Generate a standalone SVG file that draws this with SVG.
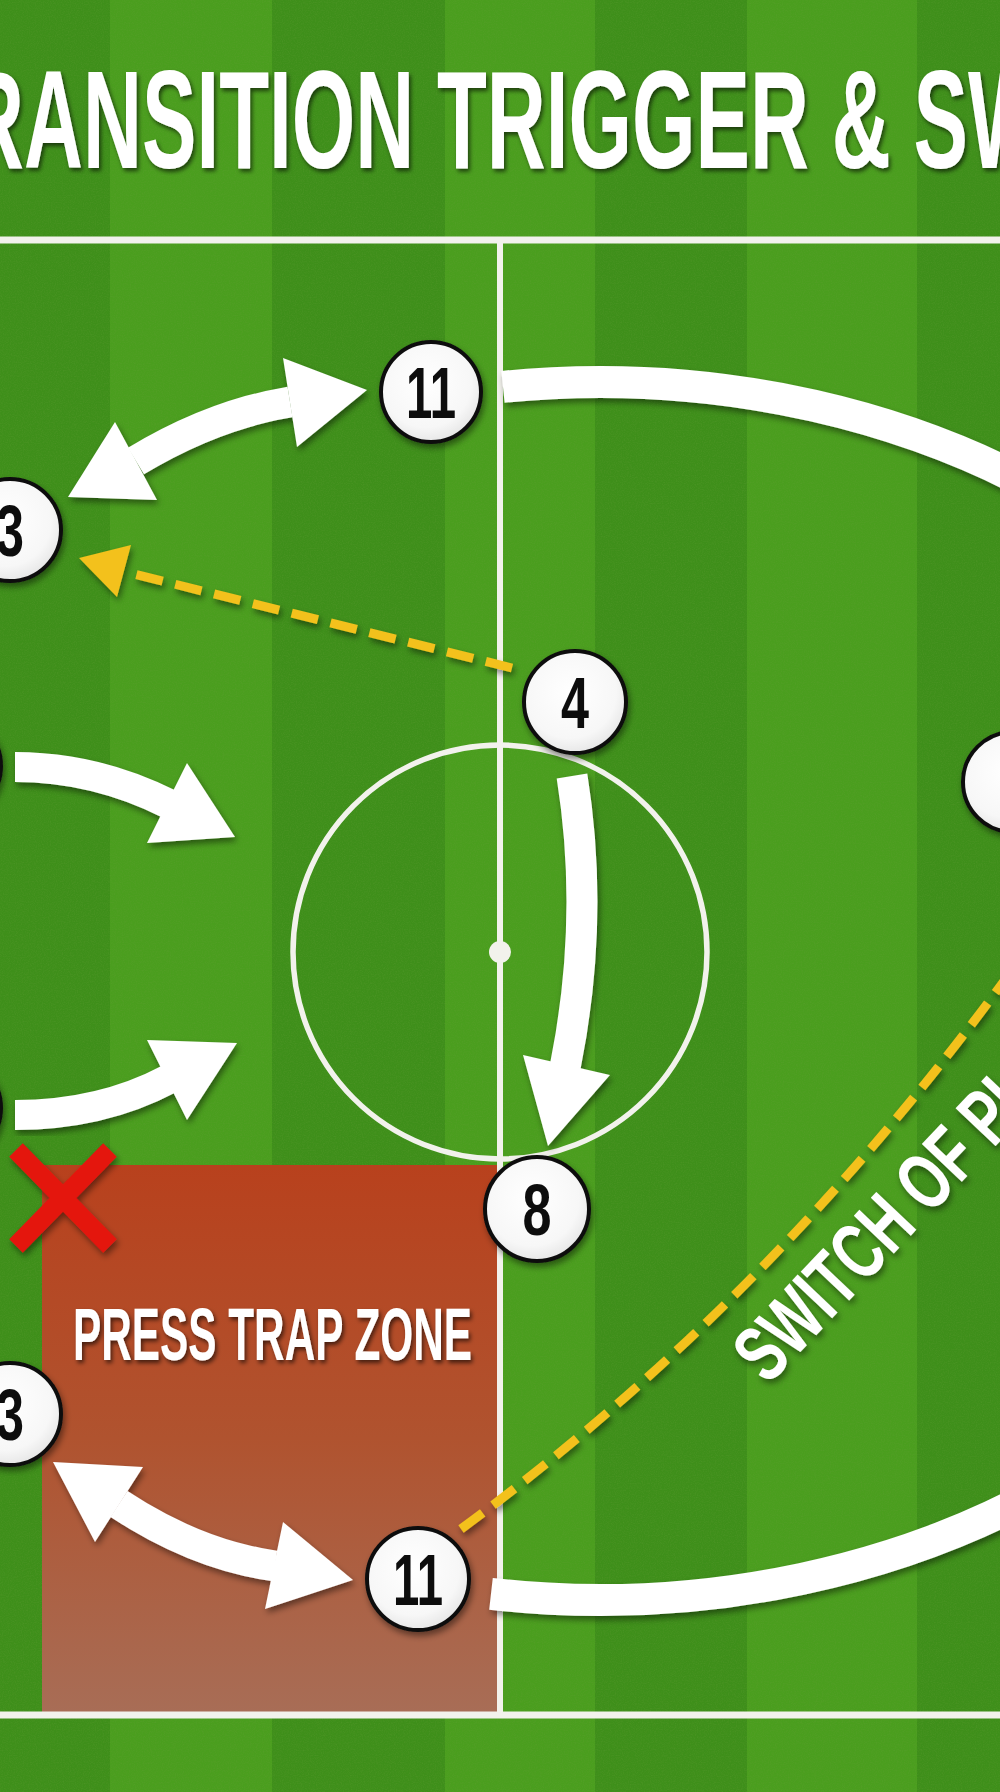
<svg xmlns="http://www.w3.org/2000/svg" width="1000" height="1792" viewBox="0 0 1000 1792">
<defs>
<style>
.lt{fill:#4a9e1e}
.dk{fill:#3e8f1a}
.pl{stroke:#f2f2ec;fill:none}
.shaft{fill:none;stroke:#fff;stroke-linecap:butt}
.head{fill:#fff}
.node circle{fill:url(#disc);stroke:#111;stroke-width:4}
.num{font-family:"Liberation Sans Narrow","Liberation Sans",Arial,sans-serif;font-weight:700;font-size:72px;fill:#111;text-anchor:middle}
.big{font-family:"Liberation Sans Narrow","Liberation Sans",Arial,sans-serif;font-weight:700;fill:#fff}
.dash{fill:none;stroke:#f3c11b;stroke-width:9;stroke-dasharray:27 13;stroke-linecap:butt}
</style>
<radialGradient id="disc" cx="0.45" cy="0.4" r="0.65">
<stop offset="0" stop-color="#ffffff"/>
<stop offset="0.7" stop-color="#f7f7f7"/>
<stop offset="1" stop-color="#e2e2e2"/>
</radialGradient>
<linearGradient id="zone" x1="0" y1="0" x2="0" y2="1">
<stop offset="0" stop-color="#b8411d"/>
<stop offset="0.5" stop-color="#b0532f"/>
<stop offset="1" stop-color="#a86d56"/>
</linearGradient>
<filter id="sh" x="-20%" y="-20%" width="140%" height="140%">
<feDropShadow dx="2" dy="4" stdDeviation="3" flood-color="#000" flood-opacity="0.45"/>
</filter>
<filter id="tsh" x="-10%" y="-10%" width="120%" height="130%">
<feDropShadow dx="2" dy="3" stdDeviation="2" flood-color="#000" flood-opacity="0.6"/>
</filter>
<filter id="grain" x="0" y="0" width="100%" height="100%">
<feTurbulence type="fractalNoise" baseFrequency="0.85" numOctaves="2" seed="7"/>
<feColorMatrix type="matrix" values="0 0 0 0 0.15  0 0 0 0 0.35  0 0 0 0 0.05  0 0 0 1.4 -0.55"/>
</filter>
</defs>

<g id="background">
<rect x="0" y="0" width="110" height="1792" class="dk"/>
<rect x="110" y="0" width="162" height="1792" class="lt"/>
<rect x="272" y="0" width="173" height="1792" class="dk"/>
<rect x="445" y="0" width="150" height="1792" class="lt"/>
<rect x="595" y="0" width="152" height="1792" class="dk"/>
<rect x="747" y="0" width="170" height="1792" class="lt"/>
<rect x="917" y="0" width="83" height="1792" class="dk"/>
<rect x="0" y="0" width="1000" height="1792" filter="url(#grain)" opacity="0.35"/>
</g>

<g id="press-trap-zone">
<rect x="42" y="1165" width="455" height="547" fill="url(#zone)"/>
<text class="big" x="73" y="1360" font-size="74" textLength="399" lengthAdjust="spacingAndGlyphs" filter="url(#tsh)">PRESS TRAP ZONE</text>
</g>

<g id="pitch-lines">
<line class="pl" x1="0" y1="240" x2="1000" y2="240" stroke-width="7"/>
<line class="pl" x1="0" y1="1715" x2="1000" y2="1715" stroke-width="7"/>
<line class="pl" x1="500" y1="240" x2="500" y2="1715" stroke-width="6"/>
<circle class="pl" cx="500" cy="952" r="207" stroke-width="5.5"/>
<circle cx="500" cy="952" r="11" fill="#f2f2ec"/>
</g>

<g id="title">
<text class="big" x="-35" y="168" font-size="140" textLength="1080" lengthAdjust="spacingAndGlyphs" filter="url(#tsh)">RANSITION TRIGGER &amp; SW</text>
</g>

<g id="connectors">
<g id="run-arc" filter="url(#sh)">
<path class="shaft" d="M503,386.8 A773,609 0 1 1 491,1593.9" stroke-width="32"/>
</g>
<g id="switch-of-play" filter="url(#sh)">
<path class="dash" d="M461,1529 Q756,1313 990,1000 L1040,933"/>
<text class="big" font-size="80" textLength="398" lengthAdjust="spacingAndGlyphs" transform="translate(768,1386) rotate(-46.5)">SWITCH OF PL</text>
</g>
<g id="pass-4-to-3" filter="url(#sh)">
<path class="dash" d="M512,668 L126,572"/>
<polygon points="79,558 131,545 117,597" fill="#f3c11b"/>
</g>
<g id="arrow-11-3-top" filter="url(#sh)">
<path class="shaft" d="M136,461 Q213,414.5 290,402" stroke-width="31"/>
<polygon class="head" points="68,497 115,422 157,500"/>
<polygon class="head" points="367,390 283,358 297,447"/>
</g>
<g id="arrow-left-upper" filter="url(#sh)">
<path class="shaft" d="M15,767 Q95,767 169,804" stroke-width="30"/>
<polygon class="head" points="235,837 187,763 147,843"/>
</g>
<g id="arrow-left-lower" filter="url(#sh)">
<path class="shaft" d="M15,1115 Q101,1115 169,1079" stroke-width="30"/>
<polygon class="head" points="237,1043 147,1040 187,1120"/>
</g>
<g id="arrow-4-8" filter="url(#sh)">
<path class="shaft" d="M572,776 Q595,919.5 565,1068" stroke-width="31"/>
<polygon class="head" points="548,1146 523,1055 610,1075"/>
</g>
<g id="arrow-3-11-bottom" filter="url(#sh)">
<path class="shaft" d="M119,1504 Q196.5,1555 275,1566" stroke-width="31"/>
<polygon class="head" points="53,1462 143,1467 95,1542"/>
<polygon class="head" points="353,1580 283,1522 265,1609"/>
</g>
</g>

<g id="red-x" filter="url(#sh)">
<line x1="16" y1="1150" x2="110" y2="1246" stroke="#e4140f" stroke-width="19"/>
<line x1="110" y1="1150" x2="16" y2="1246" stroke="#e4140f" stroke-width="19"/>
</g>

<g id="nodes" filter="url(#sh)">
<g id="node-left-upper" class="node"><circle cx="-50" cy="766" r="51"/></g>
<g id="node-left-lower" class="node"><circle cx="-50" cy="1108" r="51"/></g>
<g id="node-right" class="node"><circle cx="1013" cy="782" r="50"/></g>
<g id="node-11-top" class="node"><circle cx="431" cy="392" r="50"/><text class="num" x="431" y="418" textLength="50" lengthAdjust="spacingAndGlyphs">11</text></g>
<g id="node-3-top" class="node"><circle cx="10" cy="530" r="51"/><text class="num" x="10" y="556" textLength="28" lengthAdjust="spacingAndGlyphs">3</text></g>
<g id="node-4" class="node"><circle cx="575" cy="702" r="51"/><text class="num" x="575" y="728" textLength="28" lengthAdjust="spacingAndGlyphs">4</text></g>
<g id="node-8" class="node"><circle cx="537" cy="1209" r="52"/><text class="num" x="537" y="1235" textLength="29" lengthAdjust="spacingAndGlyphs">8</text></g>
<g id="node-3-bottom" class="node"><circle cx="10" cy="1414" r="51"/><text class="num" x="10" y="1440" textLength="28" lengthAdjust="spacingAndGlyphs">3</text></g>
<g id="node-11-bottom" class="node"><circle cx="418" cy="1579" r="51"/><text class="num" x="418" y="1605" textLength="50" lengthAdjust="spacingAndGlyphs">11</text></g>
</g>
</svg>
